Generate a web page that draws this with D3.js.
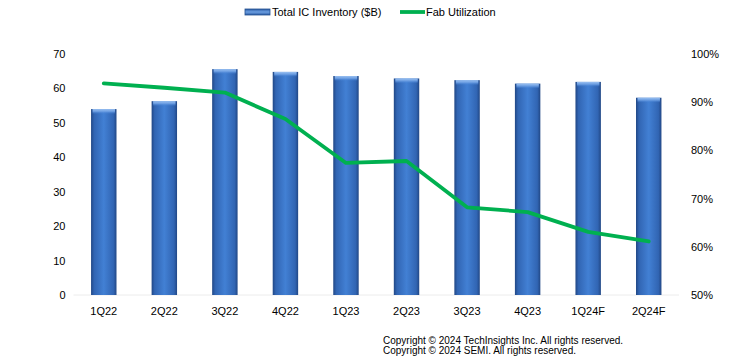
<!DOCTYPE html>
<html>
<head>
<meta charset="utf-8">
<script src="https://cdn.jsdelivr.net/npm/d3@7"></script>
<style>
  body { margin: 0; background: #fff; }
  svg { display: block; font-family: "Liberation Sans", Arial, sans-serif; }
</style>
</head>
<body>
<svg id="drawing_region"></svg>
<script>
const quarters = ["1Q22", "2Q22", "3Q22", "4Q22", "1Q23", "2Q23", "3Q23", "4Q23", "1Q24F", "2Q24F"];
const inventory = [54.0, 56.3, 65.6, 64.8, 63.6, 62.9, 62.4, 61.4, 61.9, 57.3];
const utilization = [93.9, 93.0, 92.0, 86.5, 77.4, 77.8, 68.2, 67.2, 63.1, 61.1];
const leftTicks = [0, 10, 20, 30, 40, 50, 60, 70];
const rightTicks = [50, 60, 70, 80, 90, 100];
const copyrightLines = [
    "Copyright \u00a9 2024 TechInsights Inc.  All rights reserved.",
    "Copyright \u00a9 2024 SEMI.  All rights reserved."
];

const width = 729, height = 362;
const margin = {top: 54, right: 50, bottom: 67, left: 73.5};
const inner_width = width - margin.left - margin.right;
const inner_height = height - margin.top - margin.bottom;

const svg = d3.select('#drawing_region')
    .attr('width', width)
    .attr('height', height);

const defs = svg.append('defs');
const barGrad = defs.append('linearGradient')
    .attr('id', 'barGrad')
    .attr('x1', 0).attr('x2', 1).attr('y1', 0).attr('y2', 0);
[[0, '#214785'], [0.12, '#3165b3'], [0.5, '#4280d4'], [0.88, '#3165b3'], [1, '#214785']]
    .forEach(s => barGrad.append('stop').attr('offset', s[0]).attr('stop-color', s[1]));

const capGrad = defs.append('linearGradient')
    .attr('id', 'capGrad')
    .attr('x1', 0).attr('x2', 0).attr('y1', 0).attr('y2', 1);
[[0, '#9cc2f2', 1], [0.5, '#6d9fe3', 0.9], [1, '#4280d4', 0]]
    .forEach(s => capGrad.append('stop').attr('offset', s[0]).attr('stop-color', s[1]).attr('stop-opacity', s[2]));

const legGrad = defs.append('linearGradient')
    .attr('id', 'legGrad')
    .attr('x1', 0).attr('x2', 0).attr('y1', 0).attr('y2', 1);
[[0, '#2a5aa3'], [0.5, '#6c9fe2'], [1, '#2a5aa3']]
    .forEach(s => legGrad.append('stop').attr('offset', s[0]).attr('stop-color', s[1]));

const chart = svg.append('g')
    .attr('transform', `translate(${margin.left}, ${margin.top})`);

const xscale = d3.scaleBand()
    .domain(quarters)
    .range([0, inner_width])
    .padding(0);

const yleft = d3.scaleLinear()
    .domain([0, 70])
    .range([inner_height, 0]);

const yright = d3.scaleLinear()
    .domain([50, 100])
    .range([inner_height, 0]);

const barWidth = xscale.bandwidth() * 0.42;

// faint baseline
chart.append('line')
    .attr('x1', 0).attr('x2', inner_width)
    .attr('y1', yleft(0)).attr('y2', yleft(0))
    .attr('stroke', '#ececec');

const bars = chart.selectAll('.bar')
    .data(quarters)
    .enter()
    .append('g')
    .attr('class', 'bar');

bars.append('rect')
    .attr('x', d => xscale(d) + xscale.bandwidth() / 2 - barWidth / 2)
    .attr('y', (d, i) => yleft(inventory[i]))
    .attr('width', barWidth)
    .attr('height', (d, i) => yleft(0) - yleft(inventory[i]))
    .attr('fill', 'url(#barGrad)');

bars.append('rect')
    .attr('x', d => xscale(d) + xscale.bandwidth() / 2 - barWidth / 2 + 1.5)
    .attr('y', (d, i) => yleft(inventory[i]))
    .attr('width', barWidth - 3)
    .attr('height', 5)
    .attr('fill', 'url(#capGrad)');

const line = d3.line()
    .x((d, i) => xscale(quarters[i]) + xscale.bandwidth() / 2)
    .y(d => yright(d))
    .curve(d3.curveLinear);

chart.append('path')
    .attr('d', line(utilization))
    .attr('fill', 'none')
    .attr('stroke', '#00b050')
    .attr('stroke-width', 3.8)
    .attr('stroke-linecap', 'round')
    .attr('stroke-linejoin', 'round');

// axes
const xaxis = d3.axisBottom(xscale).tickSize(0).tickPadding(12);
const xaxis_group = chart.append('g')
    .attr('transform', `translate(0, ${inner_height})`)
    .call(xaxis);

const yaxis = d3.axisLeft(yleft).tickValues(leftTicks).tickSize(0).tickPadding(8);
const yaxis_group = chart.append('g').call(yaxis);

const yaxis2 = d3.axisRight(yright).tickValues(rightTicks).tickSize(0).tickPadding(12)
    .tickFormat(d => d + '%');
const yaxis2_group = chart.append('g')
    .attr('transform', `translate(${inner_width}, 0)`)
    .call(yaxis2);

[xaxis_group, yaxis_group, yaxis2_group].forEach(g => {
    g.select('.domain').remove();
    g.selectAll('text')
        .attr('font-family', '"Liberation Sans", Arial, sans-serif')
        .attr('font-size', '11px')
        .attr('fill', '#000');
});

// legend
const legend = svg.append('g');
legend.append('rect')
    .attr('x', 245).attr('y', 9)
    .attr('width', 25).attr('height', 6)
    .attr('fill', 'url(#legGrad)')
    .attr('stroke', '#24508f')
    .attr('stroke-width', 0.8);
legend.append('text')
    .attr('x', 272).attr('y', 16)
    .attr('font-size', '11px')
    .text('Total IC Inventory ($B)');
legend.append('line')
    .attr('x1', 400).attr('x2', 425)
    .attr('y1', 12).attr('y2', 12)
    .attr('stroke', '#00b050')
    .attr('stroke-width', 3.8);
legend.append('text')
    .attr('x', 426).attr('y', 16)
    .attr('font-size', '11px')
    .text('Fab Utilization');

// copyright
svg.selectAll('.copyright')
    .data(copyrightLines)
    .enter()
    .append('text')
    .attr('class', 'copyright')
    .attr('x', 383)
    .attr('y', (d, i) => 343.5 + i * 10)
    .attr('font-size', '10px')
    .attr('fill', '#000')
    .text(d => d);
</script>
</body>
</html>
